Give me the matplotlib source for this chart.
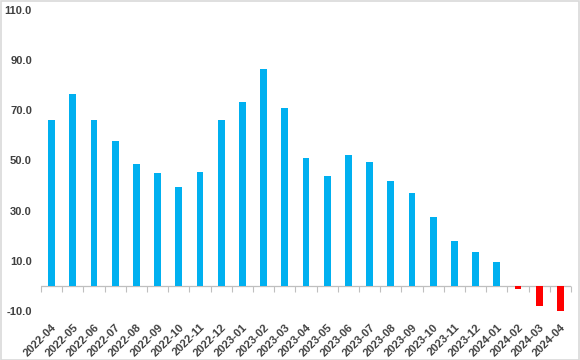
import matplotlib
matplotlib.use("Agg")
import matplotlib.pyplot as plt
from matplotlib.patches import Rectangle

months = ["2022-04", "2022-05", "2022-06", "2022-07", "2022-08", "2022-09", "2022-10",
          "2022-11", "2022-12", "2023-01", "2023-02", "2023-03", "2023-04", "2023-05",
          "2023-06", "2023-07", "2023-08", "2023-09", "2023-10", "2023-11", "2023-12",
          "2024-01", "2024-02", "2024-03", "2024-04"]
values = [66.1, 76.5, 66.1, 57.8, 48.6, 45.0, 39.4, 45.4, 66.1, 73.3, 86.5, 70.9,
          51.0, 43.8, 52.2, 49.4, 41.8, 37.0, 27.5, 17.9, 13.5, 9.6, -1.2, -8.0, -10.4]
yticks = [-10, 10, 30, 50, 70, 90, 110]

plt.rcParams['font.family'] = ['Liberation Sans', 'DejaVu Sans']

fig = plt.figure(figsize=(5.8, 3.6), dpi=100)
ax = fig.add_axes([41/580, 1-311/360, 530/580, 301/360])

x = list(range(len(months)))
colors = ['#00B0F0' if v >= 0 else '#FF0000' for v in values]
ax.bar(x, values, width=0.33, color=colors, zorder=2)

ax.set_xlim(-0.5, len(months) - 0.5)
ax.set_ylim(-10, 110)
ax.set_yticks(yticks)
ax.set_yticklabels([f"{t:.1f}" for t in yticks], fontsize=8, fontweight='bold', color='#404040')
ax.tick_params(axis='y', length=0, pad=6.5)

ax.set_xticks(x)
ax.set_xticklabels(months, rotation=45, ha='right', rotation_mode='anchor',
                   fontsize=8, fontweight='bold', color='#404040')
ax.tick_params(axis='x', length=0, pad=8)

for s in ax.spines.values():
    s.set_visible(False)

ax.axhline(0, color='#BFBFBF', lw=0.9, zorder=1)
sec = ax.secondary_xaxis(10/120)
sec.set_xticks([i - 0.5 for i in range(len(months) + 1)])
sec.set_xticklabels([])
sec.tick_params(axis='x', direction='out', length=4, color='#BFBFBF', width=0.8)
for s in sec.spines.values():
    s.set_visible(False)

fig.patches.append(Rectangle((0.001, 0.001), 0.997, 0.996, transform=fig.transFigure,
                             fill=False, edgecolor='#D9D9D9', lw=1.2))

fig.savefig("out.png", dpi=100)
